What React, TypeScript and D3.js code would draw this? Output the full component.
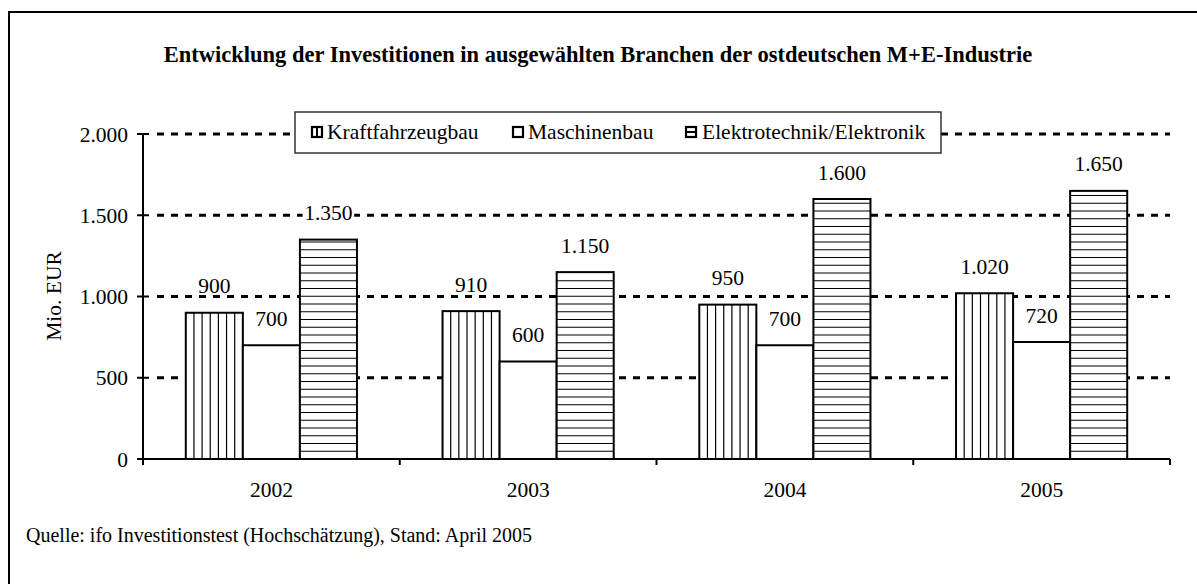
import React from "react";
import * as d3 from "d3";

const years = ["2002", "2003", "2004", "2005"];
const seriesNames = ["Kraftfahrzeugbau", "Maschinenbau", "Elektrotechnik/Elektronik"];
const kfz = [900, 910, 950, 1020];
const maschinen = [700, 600, 700, 720];
const elektro = [1350, 1150, 1600, 1650];
const yTicks = [0, 500, 1000, 1500, 2000];
const gridTicks = [500, 1000, 1500, 2000];
const title = "Entwicklung der Investitionen in ausgewählten Branchen der ostdeutschen M+E-Industrie";
const yLabel = "Mio. EUR";
const source = "Quelle: ifo Investitionstest (Hochschätzung), Stand: April 2005";

const W = 1197, H = 584;
const FONT = "'Liberation Serif', 'Times New Roman', serif";
const FS = 21.5;

const locale = d3.formatLocale({ decimal: ",", thousands: ".", grouping: [3], currency: ["", "€"] });
const fmt = locale.format(",");

export default function App() {
  const x0 = 143, x1 = 1170, yBase = 459, yTop = 134;
  const x = d3.scaleBand<string>().domain(years).range([x0, x1]).paddingInner(0).paddingOuter(0);
  const y = d3.scaleLinear().domain([0, 2000]).range([yBase, yTop]);
  const band = x.bandwidth();
  const bw = band / 4.5;
  const inner = d3.scaleBand<number>().domain([0, 1, 2]).range([0, bw * 3]);
  const series = [kfz, maschinen, elektro];
  const patterns = ["v", "none", "h"];

  const bars: React.ReactNode[] = [];
  const labels: React.ReactNode[] = [];
  years.forEach((yr, i) => {
    const gx = (x(yr) as number) + bw * 0.75;
    series.forEach((s, k) => {
      const v = s[i];
      const bx = gx + (inner(k) as number);
      const by = y(v);
      const h = yBase - by;
      const key = `${i}-${k}`;
      const stripes: React.ReactNode[] = [];
      if (patterns[k] === "v") {
        const step = bw / 7;
        d3.range(1, 7).forEach((j) => {
          const lx = bx + j * step;
          stripes.push(<line key={j} x1={lx} x2={lx} y1={by} y2={yBase} stroke="#000" strokeWidth={1.2} />);
        });
      } else if (patterns[k] === "h") {
        const step = 7.75;
        for (let yy = yBase - step; yy > by + 2; yy -= step) {
          stripes.push(<line key={yy} x1={bx} x2={bx + bw} y1={yy} y2={yy} stroke="#000" strokeWidth={1.2} />);
        }
      }
      bars.push(
        <g key={key}>
          <rect x={bx} y={by} width={bw} height={h} fill="#fff" />
          {stripes}
          <rect x={bx} y={by} width={bw} height={h} fill="none" stroke="#000" strokeWidth={2} />
        </g>
      );
      const lw = fmt(v).length * FS * 0.48;
      labels.push(
        <g key={key}>
          <rect x={bx + bw / 2 - lw / 2} y={by - 19.5 - 14} width={lw} height={14} fill="#fff" />
          <text x={bx + bw / 2} y={by - 19.5} textAnchor="middle" fontFamily={FONT} fontSize={FS} fill="#000">{fmt(v)}</text>
        </g>
      );
    });
  });

  const legendItems = [
    { name: seriesNames[0], mx: 312, tx: 327, kind: "v" },
    { name: seriesNames[1], mx: 513, tx: 528, kind: "none" },
    { name: seriesNames[2], mx: 686, tx: 702, kind: "h" },
  ];

  return (
    <svg width={W} height={H} style={{ position: "absolute", left: 0, top: 0, background: "#fff" }} fontFamily={FONT}>
      <rect x={0} y={0} width={W} height={H} fill="#fff" />
      <rect x={9} y={12} width={1400} height={800} fill="none" stroke="#000" strokeWidth={2} />
      <text x={598} y={62} textAnchor="middle" fontWeight="bold" fontSize={22.5} fill="#000">{title}</text>

      {gridTicks.map((t) => (
        <line key={t} x1={150} x2={x1} y1={y(t)} y2={y(t)} stroke="#000" strokeWidth={3} strokeDasharray="7 7" strokeDashoffset={7} />
      ))}

      {bars}

      <line x1={x0} x2={x0} y1={yTop} y2={yBase + 6} stroke="#000" strokeWidth={2} />
      {yTicks.map((t) => (
        <g key={t}>
          <line x1={137} x2={149} y1={y(t)} y2={y(t)} stroke="#000" strokeWidth={2} />
          <text x={128} y={y(t)} dy="0.35em" textAnchor="end" fontSize={FS} fill="#000">{fmt(t)}</text>
        </g>
      ))}
      <line x1={x0} x2={x1} y1={yBase} y2={yBase} stroke="#000" strokeWidth={2} />
      {[...years.map((yr) => x(yr) as number), x1].map((tx, i) => (
        <line key={i} x1={tx} x2={tx} y1={yBase} y2={yBase + 6} stroke="#000" strokeWidth={2} />
      ))}
      {years.map((yr) => (
        <text key={yr} x={(x(yr) as number) + band / 2} y={497} textAnchor="middle" fontSize={FS} fill="#000">{yr}</text>
      ))}

      {labels}

      <text transform={`translate(61,296) rotate(-90)`} textAnchor="middle" fontSize={FS} fill="#000">{yLabel}</text>

      <rect x={295} y={112} width={646} height={41} fill="#fff" stroke="#333" strokeWidth={1.5} />
      {legendItems.map((it) => (
        <g key={it.name}>
          <rect x={it.mx} y={127} width={10} height={10} fill="#fff" stroke="#000" strokeWidth={2.2} />
          {it.kind === "v" && <line x1={it.mx + 5} x2={it.mx + 5} y1={127} y2={137} stroke="#000" strokeWidth={2} />}
          {it.kind === "h" && <line x1={it.mx} x2={it.mx + 10} y1={132} y2={132} stroke="#000" strokeWidth={2} />}
          <text x={it.tx} y={139} fontSize={FS} fill="#000">{it.name}</text>
        </g>
      ))}

      <text x={26} y={542} fontSize={20} fill="#000">{source}</text>
    </svg>
  );
}
